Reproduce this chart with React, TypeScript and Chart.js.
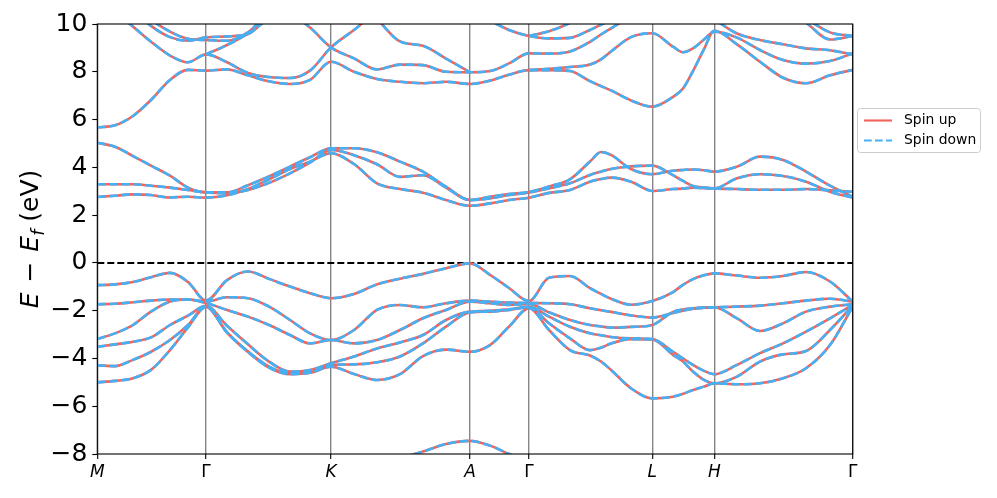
import { useEffect, useRef } from 'react';
import { Chart, registerables } from 'chart.js';

Chart.register(...registerables);

const FONT = '"DejaVu Sans", sans-serif';
const RED = '#f2635c';
const BLUE = '#45b0f3';
const LW = 2.6;
const DASH = [8.5, 3.5];

// k-path distance of each sampled column
const K = [0, 0.177, 0.357, 0.537, 0.727, 0.907, 1.087, 1.297, 1.507, 1.717, 1.927, 2.127, 2.337, 2.567, 2.797, 3.027, 3.257, 3.487, 3.727, 3.927, 4.117, 4.317, 4.517, 4.727, 4.927, 5.037, 5.137, 5.337, 5.55, 5.757, 5.857, 5.957, 6.067, 6.17, 6.397, 6.627, 6.857, 7.087, 7.327, 7.554];

// high-symmetry points
const K_TICKS = [0, 1.087, 2.337, 3.727, 4.317, 5.55, 6.17, 7.554];
const K_LABELS = ['M', 'Γ', 'K', 'A', 'Γ', 'L', 'H', 'Γ'];

// valence bands (eV)
const VB1 = [-0.93, -0.9, -0.8, -0.6, -0.42, -0.8, -1.58, -0.72, -0.36, -0.67, -0.99, -1.27, -1.48, -1.3, -0.9, -0.66, -0.46, -0.22, -0.02, -0.5, -1.05, -1.6, -0.62, -0.55, -1.06, -1.3, -1.5, -1.75, -1.6, -1.22, -0.92, -0.68, -0.52, -0.44, -0.53, -0.62, -0.55, -0.38, -0.78, -1.62];
const VB2 = [-1.73, -1.71, -1.65, -1.58, -1.53, -1.53, -1.62, -1.44, -1.48, -1.83, -2.39, -2.95, -3.23, -2.81, -1.97, -1.76, -1.86, -1.69, -1.58, -1.62, -1.66, -1.68, -1.69, -1.73, -1.9, -1.98, -2.05, -2.2, -2.29, -2.1, -2.0, -1.92, -1.88, -1.86, -1.83, -1.79, -1.69, -1.58, -1.5, -1.62];
const VB3 = [-3.19, -2.95, -2.6, -2.04, -1.62, -1.53, -1.68, -1.97, -2.25, -2.6, -3.02, -3.37, -3.23, -3.37, -3.23, -2.81, -2.32, -1.97, -1.62, -1.69, -1.76, -1.72, -2.07, -2.39, -2.6, -2.66, -2.71, -2.68, -2.6, -2.05, -1.95, -1.9, -1.87, -1.86, -2.32, -2.85, -2.53, -2.04, -1.83, -1.73];
const VB4 = [-3.51, -3.41, -3.3, -3.12, -2.6, -2.21, -1.8, -2.63, -3.41, -4.13, -4.55, -4.48, -4.2, -3.92, -3.58, -3.33, -3.02, -2.39, -2.04, -2.01, -1.94, -1.84, -2.25, -2.67, -2.95, -3.03, -3.1, -3.16, -3.19, -3.72, -4.0, -4.27, -4.52, -4.66, -4.27, -3.78, -3.37, -2.88, -2.32, -1.76];
const VB5 = [-4.29, -4.32, -4.06, -3.72, -3.23, -2.6, -1.82, -2.9, -3.71, -4.34, -4.62, -4.58, -4.27, -4.25, -4.16, -3.92, -3.37, -2.67, -2.07, -2.04, -1.97, -1.86, -2.53, -3.16, -3.65, -3.55, -3.37, -3.19, -3.2, -3.85, -4.13, -4.55, -4.9, -5.04, -4.76, -4.13, -3.83, -3.69, -2.81, -1.79];
const VB6 = [-5.0, -4.94, -4.83, -4.48, -3.65, -2.7, -1.84, -2.92, -3.73, -4.38, -4.66, -4.6, -4.35, -4.65, -4.9, -4.66, -3.9, -3.63, -3.72, -3.44, -2.67, -1.9, -2.81, -3.65, -3.88, -4.13, -4.48, -5.25, -5.67, -5.6, -5.48, -5.32, -5.18, -5.04, -5.08, -5.04, -4.83, -4.41, -3.44, -1.83];
const VB7 = [null, null, null, null, null, null, null, null, null, null, null, null, -8.6, -8.45, -8.3, -8.15, -7.9, -7.58, -7.45, -7.65, -8.0, -8.35, null, null, null, null, null, null, null, null, null, null, null, null, null, null, null, null, null, null];

// lower conduction bands (eV)
const CB1 = [5.03, 4.86, 4.47, 4.07, 3.65, 3.15, 2.95, 2.95, 3.25, 3.62, 4.03, 4.42, 4.8, 4.8, 4.63, 4.24, 3.82, 3.19, 2.63, 2.77, 2.88, 2.97, 3.2, 3.5, 4.24, 4.64, 4.52, 3.93, 3.71, 3.86, 3.89, 3.91, 3.88, 3.82, 4.03, 4.45, 4.31, 3.82, 3.23, 2.77];
const CB2 = [3.29, 3.29, 3.29, 3.23, 3.15, 3.05, 2.95, 2.92, 3.05, 3.35, 3.75, 4.2, 4.73, 4.51, 4.13, 3.6, 3.67, 3.15, 2.63, 2.7, 2.84, 2.95, 3.12, 3.33, 3.68, 3.82, 3.93, 4.04, 4.07, 3.67, 3.43, 3.22, 3.15, 3.12, 3.09, 3.06, 3.06, 3.09, 3.04, 2.98];
const CB3 = [2.76, 2.81, 2.87, 2.84, 2.74, 2.77, 2.73, 2.83, 3.09, 3.5, 3.93, 4.24, 4.59, 4.14, 3.33, 3.09, 2.94, 2.63, 2.39, 2.49, 2.63, 2.73, 2.93, 3.05, 3.4, 3.51, 3.57, 3.4, 3.01, 3.09, 3.11, 3.15, 3.13, 3.12, 3.54, 3.71, 3.64, 3.4, 2.98, 2.73];

// upper conduction bands (eV)
const UB1 = [5.67, 5.76, 6.15, 6.82, 7.66, 8.08, 8.05, 8.1, 7.85, 7.6, 7.49, 7.66, 8.42, 8.0, 7.7, 7.58, 7.52, 7.58, 7.49, 7.63, 7.88, 8.07, 8.07, 8.03, 7.61, 7.4, 7.22, 6.8, 6.54, 6.95, 7.3, 8.03, 8.95, 9.72, 9.15, 8.42, 7.75, 7.52, 7.85, 8.08];
const UB2 = [11.0, 10.5, 9.89, 9.26, 8.68, 8.4, 8.73, 8.4, 7.95, 7.78, 7.74, 8.05, 9.02, 9.75, 10.5, 10.9, 11.0, 10.8, 10.6, 10.15, 9.75, 9.5, 9.4, 9.42, 9.75, 9.97, 10.2, 10.7, 11.0, 11.0, 11.0, 11.0, 11.0, 11.0, 11.0, 11.0, 10.6, 10.05, 9.35, 9.5];
const UB3 = [null, null, null, null, null, null, 8.73, 9.12, 9.6, 10.2, 10.4, 9.85, 9.02, 8.56, 8.1, 8.3, 8.28, 8.0, 7.98, 8.03, 8.35, 8.77, 8.76, 8.85, 9.25, 9.56, 9.82, 10.3, 10.7, 10.9, 10.9, 10.8, 10.5, 10.2, 9.6, 9.33, 9.15, 8.98, 8.9, 8.73];
const UB4 = [11.6, 11.2, 10.6, 9.92, 9.45, 9.3, 9.44, 9.48, 9.58, 10.3, 10.8, 11.0, 11.2, 11.0, 10.2, 9.27, 9.09, 8.55, 7.98, null, null, null, null, null, null, null, null, null, null, null, null, null, null, null, null, null, null, null, null, null];
const UB5 = [12.0, 11.6, 11.0, 10.2, 9.68, 9.38, 9.33, 9.3, 9.65, 10.5, 11.0, 11.5, null, null, null, null, null, null, null, null, null, null, null, null, null, null, null, null, null, null, null, null, null, null, null, null, null, null, null, null];
const UB6 = [null, null, null, null, null, null, null, null, null, null, null, null, null, null, null, null, null, null, null, null, null, 8.07, 8.12, 8.2, 8.3, 8.52, 8.85, 9.45, 9.61, 9.05, 8.82, 8.98, 9.35, 9.68, 9.43, 8.91, 8.49, 8.34, 8.45, 8.77];
const UB7 = [null, null, null, null, null, null, null, null, null, null, null, null, null, null, null, null, null, null, null, null, null, 9.5, 9.7, 10.05, 10.6, 11.0, null, null, null, null, null, null, null, null, null, null, null, null, null, null];
const UB8 = [null, null, null, null, null, null, null, null, null, null, null, null, null, null, null, null, null, null, null, null, null, null, null, null, null, null, null, null, null, null, null, null, null, null, null, null, 11.0, 10.25, 9.65, 9.5];

// spin up and spin down bands coincide in this system
const SPIN_UP = [VB7, VB6, VB5, VB4, VB3, VB2, VB1, CB3, CB2, CB1, UB1, UB2, UB3, UB4, UB5, UB6, UB7, UB8];
const SPIN_DOWN = SPIN_UP;

const refLines = {
  id: 'refLines',
  beforeDatasetsDraw(chart: any) {
    const { ctx, chartArea: a, scales } = chart;
    const y0 = scales.y.getPixelForValue(0);
    ctx.save();
    ctx.strokeStyle = '#000';
    ctx.lineWidth = 2;
    ctx.setLineDash([7, 3]);
    ctx.beginPath();
    ctx.moveTo(a.left, y0);
    ctx.lineTo(a.right, y0);
    ctx.stroke();
    ctx.restore();
  },
};

const frame = {
  id: 'frame',
  afterDatasetsDraw(chart: any) {
    const { ctx, chartArea: a } = chart;
    ctx.save();
    ctx.strokeStyle = '#000';
    ctx.lineWidth = 1.1;
    ctx.strokeRect(a.left, a.top, a.right - a.left, a.bottom - a.top);
    ctx.restore();
  },
};

const yTitle = {
  id: 'yTitle',
  afterDraw(chart: any) {
    const { ctx, chartArea: a } = chart;
    const size = 25;
    const it = `italic ${size}px ${FONT}`;
    const rg = `${size}px ${FONT}`;
    const parts = [
      { t: 'E', f: it, dy: 0, pad: 0 },
      { t: ' \u2212 ', f: rg, dy: 0, pad: 2 },
      { t: 'E', f: it, dy: 0, pad: 0 },
      { t: 'f', f: `italic ${size * 0.7}px ${FONT}`, dy: size * 0.22, pad: 0 },
      { t: ' (eV)', f: rg, dy: 0, pad: 0 },
    ];
    ctx.save();
    let total = 0;
    const widths = parts.map((p) => {
      ctx.font = p.f;
      const w = ctx.measureText(p.t).width + p.pad * 2;
      total += w;
      return w;
    });
    const cy = (a.top + a.bottom) / 2;
    ctx.translate(38, cy);
    ctx.rotate(-Math.PI / 2);
    ctx.fillStyle = '#000';
    ctx.textBaseline = 'alphabetic';
    let x = -total / 2;
    parts.forEach((p, i) => {
      ctx.font = p.f;
      ctx.fillText(p.t, x + p.pad, p.dy);
      x += widths[i];
    });
    ctx.restore();
  },
};

const legendBox = {
  id: 'legendBox',
  afterDraw(chart: any) {
    const { ctx } = chart;
    ctx.save();
    ctx.beginPath();
    ctx.roundRect(857.5, 108.5, 123, 44, 3);
    ctx.fillStyle = 'rgba(255,255,255,0.8)';
    ctx.fill();
    ctx.strokeStyle = '#cccccc';
    ctx.lineWidth = 1;
    ctx.stroke();
    ctx.lineWidth = 2.1;
    ctx.strokeStyle = RED;
    ctx.setLineDash([]);
    ctx.beginPath();
    ctx.moveTo(864, 120.5);
    ctx.lineTo(892, 120.5);
    ctx.stroke();
    ctx.strokeStyle = BLUE;
    ctx.setLineDash([7.7, 3.3]);
    ctx.beginPath();
    ctx.moveTo(864, 140.5);
    ctx.lineTo(892, 140.5);
    ctx.stroke();
    ctx.setLineDash([]);
    ctx.fillStyle = '#000';
    ctx.font = `13.9px ${FONT}`;
    ctx.textBaseline = 'middle';
    ctx.fillText('Spin up', 904, 120.5);
    ctx.fillText('Spin down', 904, 140.5);
    ctx.restore();
  },
};

export default function App() {
  const ref = useRef<HTMLCanvasElement>(null);
  useEffect(() => {
    const canvas = ref.current;
    if (!canvas) return;
    const pts = (b: (number | null)[]) => K.map((k, i) => ({ x: k, y: b[i] }));
    const datasets: any[] = [];
    SPIN_UP.forEach((b) => {
      datasets.push({
        label: 'Spin up', data: pts(b), borderColor: RED, borderWidth: LW,
        pointRadius: 0, cubicInterpolationMode: 'monotone', clip: 0, order: 2, fill: false,
      });
    });
    SPIN_DOWN.forEach((b) => {
      datasets.push({
        label: 'Spin down', data: pts(b), borderColor: BLUE, borderWidth: LW, borderDash: DASH,
        pointRadius: 0, cubicInterpolationMode: 'monotone', clip: 0, order: 1, fill: false,
      });
    });
    const chart = new Chart(canvas, {
      type: 'line',
      data: { datasets },
      options: {
        animation: false,
        responsive: false,
        events: [],
        layout: { padding: { top: 24, right: 144.3, left: 0, bottom: 0 } },
        plugins: { legend: { display: false }, tooltip: { enabled: false } },
        scales: {
          x: {
            type: 'linear', min: 0, max: 7.554,
            afterBuildTicks: (s: any) => { s.ticks = K_TICKS.map((v) => ({ value: v })); },
            afterFit: (s: any) => { s.height = 44; },
            grid: { color: 'rgba(120,120,120,0.9)', lineWidth: 1.4, drawTicks: true, tickLength: 5, tickColor: '#000', tickWidth: 1.1 },
            border: { display: false },
            ticks: {
              autoSkip: false, maxRotation: 0, padding: 3, color: '#000',
              callback: (_v: any, i: number) => K_LABELS[i],
              font: (c: any) => ({ family: FONT, size: 17, style: K_LABELS[c.index] === 'Γ' ? 'normal' : 'italic' }),
            },
          },
          y: {
            type: 'linear', min: -8, max: 10,
            afterFit: (s: any) => { s.width = 97.3; },
            grid: { drawOnChartArea: false, drawTicks: true, tickLength: 5, tickColor: '#000', tickWidth: 1.1 },
            border: { display: false },
            ticks: {
              stepSize: 2, padding: 5, color: '#000', font: { family: FONT, size: 25 },
              callback: (v: any) => (v < 0 ? '\u2212' + Math.abs(v) : String(v)),
            },
          },
        },
      } as any,
      plugins: [refLines, frame, yTitle, legendBox],
    });
    return () => chart.destroy();
  }, []);
  return (
    <div style={{ position: 'absolute', left: 0, top: 0, width: 997, height: 498, background: '#fff' }}>
      <canvas ref={ref} width={997} height={498} style={{ display: 'block' }} />
    </div>
  );
}
